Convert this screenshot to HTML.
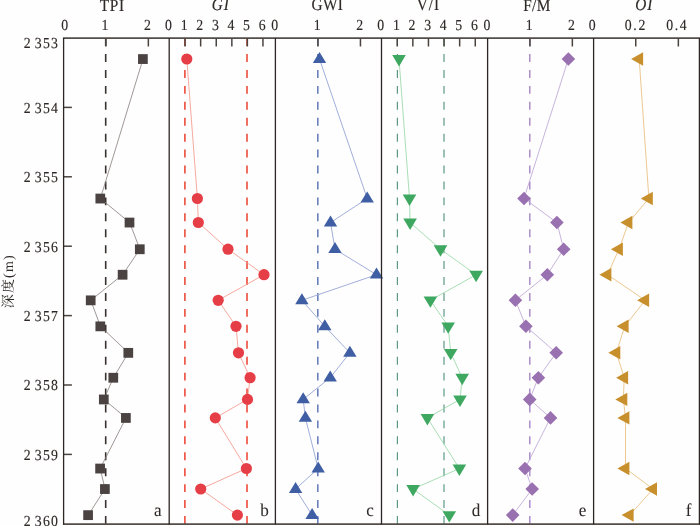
<!DOCTYPE html>
<html lang="zh"><head><meta charset="utf-8"><title>深度 TPI GI GWI V/I F/M OI</title>
<style>html,body{margin:0;padding:0;background:#fefefe;}body{width:700px;height:526px;overflow:hidden;}svg{display:block;text-rendering:geometricPrecision;}</style>
</head><body>
<svg width="700" height="526" viewBox="0 0 700 526">
<rect width="700" height="526" fill="#fefefe"/>
<g font-family="'Liberation Serif', 'Noto Serif CJK SC', serif" fill="#2e2826">
<line x1="105.7" y1="38.1" x2="105.7" y2="524.2" stroke="#38312f" stroke-width="1.6" stroke-dasharray="7.95 7.98"/>
<line x1="184.9" y1="38.1" x2="184.9" y2="524.2" stroke="#ec4c3a" stroke-width="1.6" stroke-dasharray="7.95 7.98"/>
<line x1="247.0" y1="38.1" x2="247.0" y2="524.2" stroke="#ec4c3a" stroke-width="1.6" stroke-dasharray="7.95 7.98"/>
<line x1="317.8" y1="38.1" x2="317.8" y2="524.2" stroke="#6a80bd" stroke-width="1.6" stroke-dasharray="7.95 7.98"/>
<line x1="397.4" y1="38.1" x2="397.4" y2="524.2" stroke="#5c9887" stroke-width="1.2" stroke-dasharray="7.95 7.98"/>
<line x1="444.0" y1="38.1" x2="444.0" y2="524.2" stroke="#5c9887" stroke-width="1.2" stroke-dasharray="7.95 7.98"/>
<line x1="529.8" y1="38.1" x2="529.8" y2="524.2" stroke="#a780c2" stroke-width="1.35" stroke-dasharray="7.95 7.98"/>
<polyline points="143,59 100.4,198.5 129.6,222.5 139.9,249.2 122.7,274.7 90.8,300.3 100.4,326.3 128.4,352.8 113.4,377.7 103.9,399.4 126,417.9 100.2,468.5 105,489 88.2,515.1" fill="none" stroke="#8f8583" stroke-width="0.85"/>
<polyline points="186.8,59 197.4,198.5 198.3,222.5 228,249.2 264,274.7 218.2,300.3 236,326.3 238.5,352.8 250.1,377.7 247.5,399.4 215.3,417.9 246.4,468.5 200.7,489 237.4,515.1" fill="none" stroke="#f49a8e" stroke-width="0.85"/>
<polyline points="319.5,59 367.2,198.5 330.5,222.5 335,249.2 376.5,274.7 301.9,300.3 324.8,326.3 349.9,352.8 330.2,377.7 303.2,399.4 305.4,417.9 318.2,468.5 295.6,489 312.1,515.1" fill="none" stroke="#a2aeda" stroke-width="1.0"/>
<polyline points="399,59 409.5,198.5 410.1,222.5 440.5,249.2 476.1,274.7 430.4,300.3 448.2,326.3 450.7,352.8 462.2,377.7 460,399.4 427.4,417.9 459.4,468.5 413.1,489 449.3,515.1" fill="none" stroke="#9ad8a8" stroke-width="0.85"/>
<polyline points="568.4,59 524,198.5 556.9,222.5 563.7,249.2 547.3,274.7 515.4,300.3 525.9,326.3 556.2,352.8 538.4,377.7 529.7,399.4 550.5,417.9 525,468.5 532.2,489 512.7,515.1" fill="none" stroke="#bea6d6" stroke-width="0.85"/>
<polyline points="639.2,59 648.9,198.5 628.5,222.5 619,249.2 607.5,274.7 645.2,300.3 624.7,326.3 616.4,352.8 624.2,377.7 623.4,399.4 625.5,417.9 625.5,468.5 653.1,489 629.7,515.1" fill="none" stroke="#e9be7c" stroke-width="0.85"/>
<rect x="138.05" y="54.15" width="9.7" height="9.8" fill="#4a4341"/>
<rect x="95.45" y="193.65" width="9.7" height="9.8" fill="#4a4341"/>
<rect x="124.65" y="217.65" width="9.7" height="9.8" fill="#4a4341"/>
<rect x="134.95" y="244.35" width="9.7" height="9.8" fill="#4a4341"/>
<rect x="117.75" y="269.85" width="9.7" height="9.8" fill="#4a4341"/>
<rect x="85.85" y="295.45" width="9.7" height="9.8" fill="#4a4341"/>
<rect x="95.45" y="321.45" width="9.7" height="9.8" fill="#4a4341"/>
<rect x="123.45" y="347.95" width="9.7" height="9.8" fill="#4a4341"/>
<rect x="108.45" y="372.85" width="9.7" height="9.8" fill="#4a4341"/>
<rect x="98.95" y="394.55" width="9.7" height="9.8" fill="#4a4341"/>
<rect x="121.05" y="413.05" width="9.7" height="9.8" fill="#4a4341"/>
<rect x="95.25" y="463.65" width="9.7" height="9.8" fill="#4a4341"/>
<rect x="100.05" y="484.15" width="9.7" height="9.8" fill="#4a4341"/>
<rect x="83.25" y="510.25" width="9.7" height="9.8" fill="#4a4341"/>
<circle cx="186.8" cy="59" r="5.6" fill="#e63e46"/>
<circle cx="197.4" cy="198.5" r="5.6" fill="#e63e46"/>
<circle cx="198.3" cy="222.5" r="5.6" fill="#e63e46"/>
<circle cx="228" cy="249.2" r="5.6" fill="#e63e46"/>
<circle cx="264" cy="274.7" r="5.6" fill="#e63e46"/>
<circle cx="218.2" cy="300.3" r="5.6" fill="#e63e46"/>
<circle cx="236" cy="326.3" r="5.6" fill="#e63e46"/>
<circle cx="238.5" cy="352.8" r="5.6" fill="#e63e46"/>
<circle cx="250.1" cy="377.7" r="5.6" fill="#e63e46"/>
<circle cx="247.5" cy="399.4" r="5.6" fill="#e63e46"/>
<circle cx="215.3" cy="417.9" r="5.6" fill="#e63e46"/>
<circle cx="246.4" cy="468.5" r="5.6" fill="#e63e46"/>
<circle cx="200.7" cy="489" r="5.6" fill="#e63e46"/>
<circle cx="237.4" cy="515.1" r="5.6" fill="#e63e46"/>
<polygon points="319.5,51.9 326.2,62.9 312.8,62.9" fill="#3f5ea4"/>
<polygon points="367.2,191.4 373.9,202.4 360.5,202.4" fill="#3f5ea4"/>
<polygon points="330.5,215.4 337.2,226.4 323.8,226.4" fill="#3f5ea4"/>
<polygon points="335.0,242.1 341.7,253.1 328.3,253.1" fill="#3f5ea4"/>
<polygon points="376.5,267.6 383.2,278.6 369.8,278.6" fill="#3f5ea4"/>
<polygon points="301.9,293.2 308.6,304.2 295.2,304.2" fill="#3f5ea4"/>
<polygon points="324.8,319.2 331.5,330.2 318.1,330.2" fill="#3f5ea4"/>
<polygon points="349.9,345.7 356.6,356.7 343.2,356.7" fill="#3f5ea4"/>
<polygon points="330.2,370.6 336.9,381.6 323.5,381.6" fill="#3f5ea4"/>
<polygon points="303.2,392.3 309.9,403.3 296.5,403.3" fill="#3f5ea4"/>
<polygon points="305.4,410.8 312.1,421.8 298.7,421.8" fill="#3f5ea4"/>
<polygon points="318.2,461.4 324.9,472.4 311.5,472.4" fill="#3f5ea4"/>
<polygon points="295.6,481.9 302.3,492.9 288.9,492.9" fill="#3f5ea4"/>
<polygon points="312.1,508.0 318.8,519.0 305.4,519.0" fill="#3f5ea4"/>
<polygon points="399.0,66.5 405.8,55.1 392.2,55.1" fill="#3fa860"/>
<polygon points="409.5,206.0 416.3,194.6 402.7,194.6" fill="#3fa860"/>
<polygon points="410.1,230.0 416.9,218.6 403.3,218.6" fill="#3fa860"/>
<polygon points="440.5,256.7 447.3,245.3 433.7,245.3" fill="#3fa860"/>
<polygon points="476.1,282.2 482.9,270.8 469.3,270.8" fill="#3fa860"/>
<polygon points="430.4,307.8 437.2,296.4 423.6,296.4" fill="#3fa860"/>
<polygon points="448.2,333.8 455.0,322.4 441.4,322.4" fill="#3fa860"/>
<polygon points="450.7,360.3 457.5,348.9 443.9,348.9" fill="#3fa860"/>
<polygon points="462.2,385.2 469.0,373.8 455.4,373.8" fill="#3fa860"/>
<polygon points="460.0,406.9 466.8,395.5 453.2,395.5" fill="#3fa860"/>
<polygon points="427.4,425.4 434.2,414.0 420.6,414.0" fill="#3fa860"/>
<polygon points="459.4,476.0 466.2,464.6 452.6,464.6" fill="#3fa860"/>
<polygon points="413.1,496.5 419.9,485.1 406.3,485.1" fill="#3fa860"/>
<polygon points="449.3,522.6 456.1,511.2 442.5,511.2" fill="#3fa860"/>
<polygon points="568.4,52.2 575.2,59.0 568.4,65.8 561.6,59.0" fill="#9970b0"/>
<polygon points="524.0,191.7 530.8,198.5 524.0,205.3 517.2,198.5" fill="#9970b0"/>
<polygon points="556.9,215.7 563.7,222.5 556.9,229.3 550.1,222.5" fill="#9970b0"/>
<polygon points="563.7,242.4 570.5,249.2 563.7,256.0 556.9,249.2" fill="#9970b0"/>
<polygon points="547.3,267.9 554.1,274.7 547.3,281.5 540.5,274.7" fill="#9970b0"/>
<polygon points="515.4,293.5 522.2,300.3 515.4,307.1 508.6,300.3" fill="#9970b0"/>
<polygon points="525.9,319.5 532.7,326.3 525.9,333.1 519.1,326.3" fill="#9970b0"/>
<polygon points="556.2,346.0 563.0,352.8 556.2,359.6 549.4,352.8" fill="#9970b0"/>
<polygon points="538.4,370.9 545.2,377.7 538.4,384.5 531.6,377.7" fill="#9970b0"/>
<polygon points="529.7,392.6 536.5,399.4 529.7,406.2 522.9,399.4" fill="#9970b0"/>
<polygon points="550.5,411.1 557.3,417.9 550.5,424.7 543.7,417.9" fill="#9970b0"/>
<polygon points="525.0,461.7 531.8,468.5 525.0,475.3 518.2,468.5" fill="#9970b0"/>
<polygon points="532.2,482.2 539.0,489.0 532.2,495.8 525.4,489.0" fill="#9970b0"/>
<polygon points="512.7,508.3 519.5,515.1 512.7,521.9 505.9,515.1" fill="#9970b0"/>
<polygon points="631.1,59.0 643.1,52.3 643.1,65.7" fill="#c8902c"/>
<polygon points="640.8,198.5 652.8,191.8 652.8,205.2" fill="#c8902c"/>
<polygon points="620.4,222.5 632.4,215.8 632.4,229.2" fill="#c8902c"/>
<polygon points="610.9,249.2 622.9,242.5 622.9,255.9" fill="#c8902c"/>
<polygon points="599.4,274.7 611.4,268.0 611.4,281.4" fill="#c8902c"/>
<polygon points="637.1,300.3 649.1,293.6 649.1,307.0" fill="#c8902c"/>
<polygon points="616.6,326.3 628.6,319.6 628.6,333.0" fill="#c8902c"/>
<polygon points="608.3,352.8 620.3,346.1 620.3,359.5" fill="#c8902c"/>
<polygon points="616.1,377.7 628.1,371.0 628.1,384.4" fill="#c8902c"/>
<polygon points="615.3,399.4 627.3,392.7 627.3,406.1" fill="#c8902c"/>
<polygon points="617.4,417.9 629.4,411.2 629.4,424.6" fill="#c8902c"/>
<polygon points="617.4,468.5 629.4,461.8 629.4,475.2" fill="#c8902c"/>
<polygon points="645.0,489.0 657.0,482.3 657.0,495.7" fill="#c8902c"/>
<polygon points="621.6,515.1 633.6,508.4 633.6,521.8" fill="#c8902c"/>
<g fill="none">
<g stroke="#544d48" stroke-width="1.7">
<line x1="62.95" y1="38.2" x2="700" y2="38.2"/>
<line x1="62.95" y1="524.2" x2="700" y2="524.2"/>
</g>
<g stroke="#4a4441" stroke-width="1.5">
<line x1="105.85" y1="38.2" x2="105.85" y2="46.5"/>
<line x1="148.35" y1="38.2" x2="148.35" y2="46.5"/>
<line x1="185.05" y1="38.2" x2="185.05" y2="46.5"/>
<line x1="200.65" y1="38.2" x2="200.65" y2="46.5"/>
<line x1="216.25" y1="38.2" x2="216.25" y2="46.5"/>
<line x1="231.85" y1="38.2" x2="231.85" y2="46.5"/>
<line x1="247.35" y1="38.2" x2="247.35" y2="46.5"/>
<line x1="262.95" y1="38.2" x2="262.95" y2="46.5"/>
<line x1="317.95" y1="38.2" x2="317.95" y2="46.5"/>
<line x1="360.45" y1="38.2" x2="360.45" y2="46.5"/>
<line x1="397.25" y1="38.2" x2="397.25" y2="46.5"/>
<line x1="412.85" y1="38.2" x2="412.85" y2="46.5"/>
<line x1="428.45" y1="38.2" x2="428.45" y2="46.5"/>
<line x1="444.05" y1="38.2" x2="444.05" y2="46.5"/>
<line x1="459.65" y1="38.2" x2="459.65" y2="46.5"/>
<line x1="475.25" y1="38.2" x2="475.25" y2="46.5"/>
<line x1="529.95" y1="38.2" x2="529.95" y2="46.5"/>
<line x1="572.35" y1="38.2" x2="572.35" y2="46.5"/>
<line x1="635.75" y1="38.2" x2="635.75" y2="46.5"/>
<line x1="678.35" y1="38.2" x2="678.35" y2="46.5"/>
<line x1="63.6" y1="107.4" x2="71.9" y2="107.4"/>
<line x1="63.6" y1="176.8" x2="71.9" y2="176.8"/>
<line x1="63.6" y1="246.2" x2="71.9" y2="246.2"/>
<line x1="63.6" y1="315.6" x2="71.9" y2="315.6"/>
<line x1="63.6" y1="385.0" x2="71.9" y2="385.0"/>
<line x1="63.6" y1="454.4" x2="71.9" y2="454.4"/>
</g>
<g stroke="#2c2624" stroke-width="1.3">
<line x1="63.6" y1="37.90" x2="63.6" y2="524.50"/>
<line x1="169.2" y1="37.90" x2="169.2" y2="524.50"/>
<line x1="275.4" y1="37.90" x2="275.4" y2="524.50"/>
<line x1="381.5" y1="37.90" x2="381.5" y2="524.50"/>
<line x1="487.6" y1="37.90" x2="487.6" y2="524.50"/>
<line x1="593.6" y1="37.90" x2="593.6" y2="524.50"/>
<line x1="699.4" y1="37.90" x2="699.4" y2="524.50"/>
</g>
</g>
<text transform="translate(64.80,30.30) scale(0.9,1)" font-size="15.3" text-anchor="middle" letter-spacing="0.0" stroke="#2e2826" stroke-width="0.15">0</text>
<text transform="translate(105.00,30.30) scale(0.9,1)" font-size="15.3" text-anchor="middle" letter-spacing="0.0" stroke="#2e2826" stroke-width="0.15">1</text>
<text transform="translate(147.50,30.30) scale(0.9,1)" font-size="15.3" text-anchor="middle" letter-spacing="0.0" stroke="#2e2826" stroke-width="0.15">2</text>
<text transform="translate(168.50,30.30) scale(0.9,1)" font-size="15.3" text-anchor="middle" letter-spacing="0.0" stroke="#2e2826" stroke-width="0.15">0</text>
<text transform="translate(184.20,30.30) scale(0.9,1)" font-size="15.3" text-anchor="middle" letter-spacing="0.0" stroke="#2e2826" stroke-width="0.15">1</text>
<text transform="translate(199.80,30.30) scale(0.9,1)" font-size="15.3" text-anchor="middle" letter-spacing="0.0" stroke="#2e2826" stroke-width="0.15">2</text>
<text transform="translate(215.40,30.30) scale(0.9,1)" font-size="15.3" text-anchor="middle" letter-spacing="0.0" stroke="#2e2826" stroke-width="0.15">3</text>
<text transform="translate(231.00,30.30) scale(0.9,1)" font-size="15.3" text-anchor="middle" letter-spacing="0.0" stroke="#2e2826" stroke-width="0.15">4</text>
<text transform="translate(246.50,30.30) scale(0.9,1)" font-size="15.3" text-anchor="middle" letter-spacing="0.0" stroke="#2e2826" stroke-width="0.15">5</text>
<text transform="translate(262.10,30.30) scale(0.9,1)" font-size="15.3" text-anchor="middle" letter-spacing="0.0" stroke="#2e2826" stroke-width="0.15">6</text>
<text transform="translate(274.70,30.30) scale(0.9,1)" font-size="15.3" text-anchor="middle" letter-spacing="0.0" stroke="#2e2826" stroke-width="0.15">0</text>
<text transform="translate(317.10,30.30) scale(0.9,1)" font-size="15.3" text-anchor="middle" letter-spacing="0.0" stroke="#2e2826" stroke-width="0.15">1</text>
<text transform="translate(359.60,30.30) scale(0.9,1)" font-size="15.3" text-anchor="middle" letter-spacing="0.0" stroke="#2e2826" stroke-width="0.15">2</text>
<text transform="translate(380.80,30.30) scale(0.9,1)" font-size="15.3" text-anchor="middle" letter-spacing="0.0" stroke="#2e2826" stroke-width="0.15">0</text>
<text transform="translate(396.40,30.30) scale(0.9,1)" font-size="15.3" text-anchor="middle" letter-spacing="0.0" stroke="#2e2826" stroke-width="0.15">1</text>
<text transform="translate(412.00,30.30) scale(0.9,1)" font-size="15.3" text-anchor="middle" letter-spacing="0.0" stroke="#2e2826" stroke-width="0.15">2</text>
<text transform="translate(427.60,30.30) scale(0.9,1)" font-size="15.3" text-anchor="middle" letter-spacing="0.0" stroke="#2e2826" stroke-width="0.15">3</text>
<text transform="translate(443.20,30.30) scale(0.9,1)" font-size="15.3" text-anchor="middle" letter-spacing="0.0" stroke="#2e2826" stroke-width="0.15">4</text>
<text transform="translate(458.80,30.30) scale(0.9,1)" font-size="15.3" text-anchor="middle" letter-spacing="0.0" stroke="#2e2826" stroke-width="0.15">5</text>
<text transform="translate(474.40,30.30) scale(0.9,1)" font-size="15.3" text-anchor="middle" letter-spacing="0.0" stroke="#2e2826" stroke-width="0.15">6</text>
<text transform="translate(486.90,30.30) scale(0.9,1)" font-size="15.3" text-anchor="middle" letter-spacing="0.0" stroke="#2e2826" stroke-width="0.15">0</text>
<text transform="translate(529.10,30.30) scale(0.9,1)" font-size="15.3" text-anchor="middle" letter-spacing="0.0" stroke="#2e2826" stroke-width="0.15">1</text>
<text transform="translate(571.50,30.30) scale(0.9,1)" font-size="15.3" text-anchor="middle" letter-spacing="0.0" stroke="#2e2826" stroke-width="0.15">2</text>
<text transform="translate(592.10,30.30) scale(0.9,1)" font-size="15.3" text-anchor="middle" letter-spacing="0.0" stroke="#2e2826" stroke-width="0.15">0</text>
<text transform="translate(635.90,30.30) scale(0.9,1)" font-size="15.3" text-anchor="middle" letter-spacing="1.8" stroke="#2e2826" stroke-width="0.15">0.2</text>
<text transform="translate(677.30,30.30) scale(0.9,1)" font-size="15.3" text-anchor="middle" letter-spacing="1.8" stroke="#2e2826" stroke-width="0.15">0.4</text>
<text transform="translate(112.35,11.00) scale(0.9,1)" font-size="17" text-anchor="middle" letter-spacing="0.8" stroke="#2e2826" stroke-width="0.15">TPI</text>
<text transform="translate(220.65,10.20) scale(0.9,1)" font-size="17" text-anchor="middle" letter-spacing="1.0" font-style="italic" stroke="#2e2826" stroke-width="0.15">GI</text>
<text transform="translate(327.40,10.30) scale(0.9,1)" font-size="17" text-anchor="middle" letter-spacing="0.5" stroke="#2e2826" stroke-width="0.15">GWI</text>
<text transform="translate(428.40,10.20) scale(0.9,1)" font-size="17" text-anchor="middle" letter-spacing="1.0" stroke="#2e2826" stroke-width="0.15">V/I</text>
<text transform="translate(537.00,10.70) scale(0.9,1)" font-size="17" text-anchor="middle" letter-spacing="0.5" stroke="#2e2826" stroke-width="0.15">F/M</text>
<text transform="translate(644.35,10.30) scale(0.9,1)" font-size="17" text-anchor="middle" letter-spacing="1.2" font-style="italic" stroke="#2e2826" stroke-width="0.15">OI</text>
<text transform="translate(58.90,48.00) scale(0.9,1)" font-size="15.3" text-anchor="end" letter-spacing="1.25" word-spacing="-1.7" stroke="#2e2826" stroke-width="0.15">2 353</text>
<text transform="translate(58.90,112.70) scale(0.9,1)" font-size="15.3" text-anchor="end" letter-spacing="1.25" word-spacing="-1.7" stroke="#2e2826" stroke-width="0.15">2 354</text>
<text transform="translate(58.90,182.10) scale(0.9,1)" font-size="15.3" text-anchor="end" letter-spacing="1.25" word-spacing="-1.7" stroke="#2e2826" stroke-width="0.15">2 355</text>
<text transform="translate(58.90,251.50) scale(0.9,1)" font-size="15.3" text-anchor="end" letter-spacing="1.25" word-spacing="-1.7" stroke="#2e2826" stroke-width="0.15">2 356</text>
<text transform="translate(58.90,320.90) scale(0.9,1)" font-size="15.3" text-anchor="end" letter-spacing="1.25" word-spacing="-1.7" stroke="#2e2826" stroke-width="0.15">2 357</text>
<text transform="translate(58.90,390.30) scale(0.9,1)" font-size="15.3" text-anchor="end" letter-spacing="1.25" word-spacing="-1.7" stroke="#2e2826" stroke-width="0.15">2 358</text>
<text transform="translate(58.90,459.70) scale(0.9,1)" font-size="15.3" text-anchor="end" letter-spacing="1.25" word-spacing="-1.7" stroke="#2e2826" stroke-width="0.15">2 359</text>
<text transform="translate(58.90,525.90) scale(0.9,1)" font-size="15.3" text-anchor="end" letter-spacing="1.25" word-spacing="-1.7" stroke="#2e2826" stroke-width="0.15">2 360</text>
<text transform="translate(12.70,281.20) rotate(-90) scale(1,1)" font-size="14" text-anchor="middle" letter-spacing="1.2" stroke="#2e2826" stroke-width="0">深度(m)</text>
<text transform="translate(157.70,516.00) scale(0.95,1)" font-size="18" text-anchor="middle" letter-spacing="0.0" stroke="#2e2826" stroke-width="0.05">a</text>
<text transform="translate(264.50,516.00) scale(0.95,1)" font-size="18" text-anchor="middle" letter-spacing="0.0" stroke="#2e2826" stroke-width="0.05">b</text>
<text transform="translate(370.00,516.00) scale(0.95,1)" font-size="18" text-anchor="middle" letter-spacing="0.0" stroke="#2e2826" stroke-width="0.05">c</text>
<text transform="translate(476.10,516.00) scale(0.95,1)" font-size="18" text-anchor="middle" letter-spacing="0.0" stroke="#2e2826" stroke-width="0.05">d</text>
<text transform="translate(582.50,516.00) scale(0.95,1)" font-size="18" text-anchor="middle" letter-spacing="0.0" stroke="#2e2826" stroke-width="0.05">e</text>
<text transform="translate(688.50,516.00) scale(0.95,1)" font-size="18" text-anchor="middle" letter-spacing="0.0" stroke="#2e2826" stroke-width="0.05">f</text>
</g></svg>
</body></html>
